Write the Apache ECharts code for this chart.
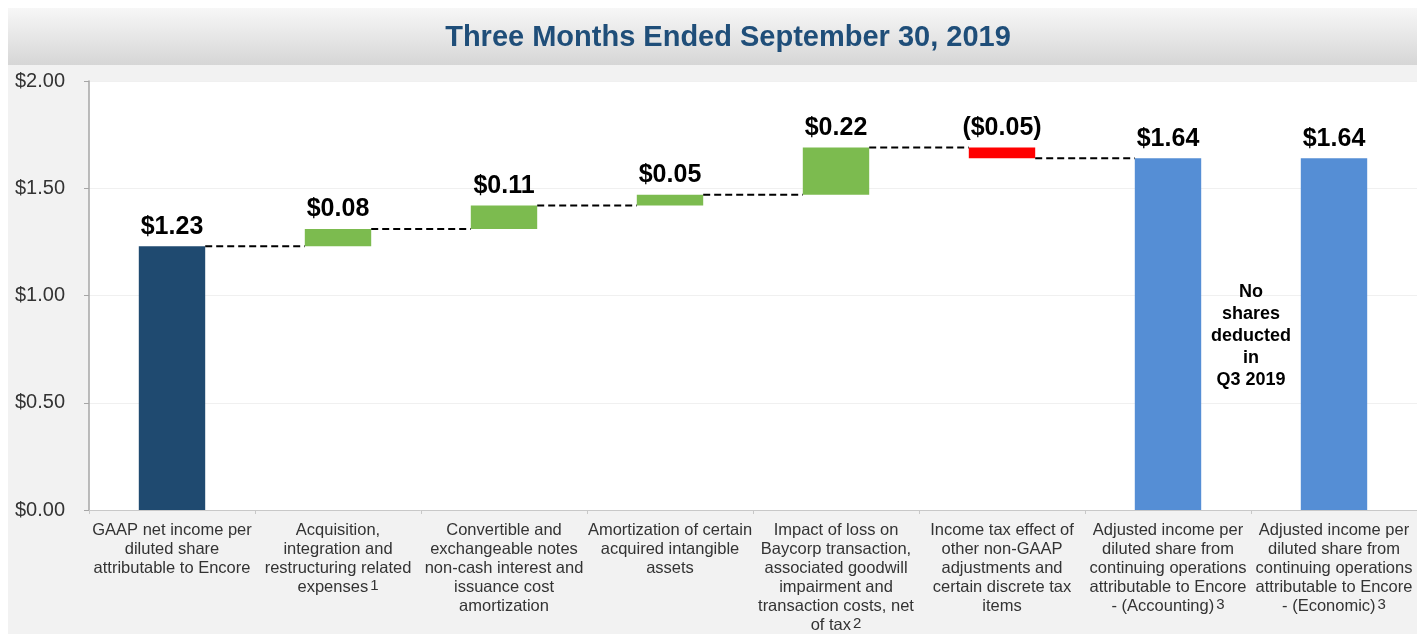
<!DOCTYPE html>
<html>
<head>
<meta charset="utf-8">
<script src="https://cdn.jsdelivr.net/npm/echarts@6/dist/echarts.min.js"></script>
<style>
html,body{margin:0;padding:0;background:#fff;}
#chart{width:1417px;height:634px;}
</style>
</head>
<body>
<div id="chart"></div>
<script>
const titleText = 'Three Months Ended September 30, 2019';
const categories = [
  'GAAP net income per\ndiluted share\nattributable to Encore',
  'Acquisition,\nintegration and\nrestructuring related\nexpenses',
  'Convertible and\nexchangeable notes\nnon-cash interest and\nissuance cost\namortization',
  'Amortization of certain\nacquired intangible\nassets',
  'Impact of loss on\nBaycorp transaction,\nassociated goodwill\nimpairment and\ntransaction costs, net\nof tax',
  'Income tax effect of\nother non-GAAP\nadjustments and\ncertain discrete tax\nitems',
  'Adjusted income per\ndiluted share from\ncontinuing operations\nattributable to Encore\n- (Accounting)',
  'Adjusted income per\ndiluted share from\ncontinuing operations\nattributable to Encore\n- (Economic)'
];
const footnotes = ['', '1', '', '', '2', '', '3', '3'];
const values = [1.23, 0.08, 0.11, 0.05, 0.22, -0.05, 1.64, 1.64];
const kinds = ['start', 'up', 'up', 'up', 'up', 'down', 'total', 'total'];
const valueLabels = ['$1.23', '$0.08', '$0.11', '$0.05', '$0.22', '($0.05)', '$1.64', '$1.64'];
const yTicks = [0, 0.5, 1.0, 1.5, 2.0];
const noteText = 'No\nshares\ndeducted\nin\nQ3 2019';

const colors = {start: '#1f4a70', up: '#7cbb4f', down: '#ff0000', total: '#558ed5'};
const FONT = '"Liberation Sans", Arial, sans-serif';

// build waterfall geometry
const base = [], height = [], levels = [];
let run = 0;
for (let i = 0; i < values.length; i++) {
  const v = values[i];
  if (kinds[i] === 'start' || kinds[i] === 'total') {
    base.push(0); height.push(v); run = v;
  } else if (v >= 0) {
    base.push(run); height.push(v); run = run + v;
  } else {
    base.push(run + v); height.push(-v); run = run + v;
  }
  levels.push(+run.toFixed(4));
}
// connectors: level after bar i drawn to next bar (none between the two final totals)
const connectors = [];
for (let i = 0; i < values.length - 1; i++) {
  if (kinds[i] === 'total' && kinds[i + 1] === 'total') continue;
  connectors.push([i, levels[i]]);
}

const bgGraphics = [
  {type: 'rect', z: -100, silent: true, shape: {x: 8, y: 8, width: 1409, height: 626}, style: {fill: '#f2f2f2'}},
  {type: 'rect', z: -99, silent: true, shape: {x: 8, y: 8, width: 1409, height: 57},
    style: {fill: new echarts.graphic.LinearGradient(0, 0, 0, 1, [{offset: 0, color: '#f7f7f7'}, {offset: 1, color: '#d6d6d6'}])}},
  {type: 'text', z: 10, x: 728, y: 38, silent: true,
    style: {text: titleText, fontFamily: FONT, fontSize: 29, fontWeight: 'bold', fill: '#1f4e79', align: 'center', verticalAlign: 'middle'}}
];

const chart = echarts.init(document.getElementById('chart'));
const option = {
  backgroundColor: '#ffffff',
  animation: false,
  graphic: bgGraphics,
  grid: {left: 89, right: 0, top: 81, bottom: 124, show: true, backgroundColor: '#ffffff', borderWidth: 0,
    containLabel: false, outerBoundsMode: 'none'},
  xAxis: {
    type: 'category',
    data: categories,
    axisLine: {show: true, lineStyle: {color: '#c8c8c8', width: 1}},
    axisTick: {show: true, length: 4, lineStyle: {color: '#c8c8c8'}},
    axisLabel: {
      interval: 0, margin: 11,
      fontFamily: FONT, fontSize: 16.5, lineHeight: 19, color: '#333333', align: 'center',
      formatter: function (val, idx) {
        const fn = footnotes[idx];
        return fn ? val + '{sup|' + fn + '}' : val;
      },
      rich: {sup: {fontFamily: FONT, fontSize: 15, lineHeight: 19, verticalAlign: 'top', color: '#333333', padding: [0, 0, 7, 2]}}
    }
  },
  yAxis: {
    type: 'value', min: yTicks[0], max: yTicks[yTicks.length - 1], interval: yTicks[1] - yTicks[0],
    axisLine: {show: true, lineStyle: {color: '#a6a6a6', width: 1.5}},
    axisTick: {show: true, length: 5, lineStyle: {color: '#a6a6a6'}},
    splitLine: {show: true, lineStyle: {color: '#f0f0f0', width: 1}},
    axisLabel: {
      fontFamily: FONT, fontSize: 20, color: '#333333', margin: 24,
      formatter: v => '$' + v.toFixed(2)
    }
  },
  series: [
    {
      type: 'bar', stack: 'wf', data: base, barWidth: '40%',
      itemStyle: {color: 'transparent'}, silent: true
    },
    {
      type: 'bar', stack: 'wf', barWidth: '40%',
      data: height.map((h, i) => ({value: h, itemStyle: {color: colors[kinds[i]]}})),
      label: {
        show: true, position: 'top', distance: 7,
        fontFamily: FONT, fontSize: 25, fontWeight: 'bold', color: '#000000',
        formatter: p => valueLabels[p.dataIndex]
      }
    },
    {
      type: 'custom', data: connectors, z: 5,
      renderItem: function (params, api) {
        const p = api.coord([api.value(0), api.value(1)]);
        const bw = api.size([1, 0])[0];
        const half = bw * 0.2;
        return {
          type: 'line',
          shape: {x1: p[0] + half, y1: p[1], x2: p[0] + bw - half, y2: p[1]},
          style: {stroke: '#000000', lineWidth: 2, lineDash: [7, 4]}
        };
      }
    }
  ]
};
chart.setOption(option);

// annotation between the two final bars, positioned through the axes
const pA = chart.convertToPixel({seriesIndex: 1}, [6, 0]);
const pB = chart.convertToPixel({seriesIndex: 1}, [7, 0]);
const pY = chart.convertToPixel({seriesIndex: 1}, [6, 0.81]);
chart.setOption({
  graphic: bgGraphics.concat([
    {type: 'text', z: 10, x: (pA[0] + pB[0]) / 2, y: pY[1], silent: true,
      style: {text: noteText, fontFamily: FONT, fontSize: 18, fontWeight: 'bold', lineHeight: 22,
        fill: '#000000', align: 'center', verticalAlign: 'middle'}}
  ])
});
</script>
</body>
</html>
